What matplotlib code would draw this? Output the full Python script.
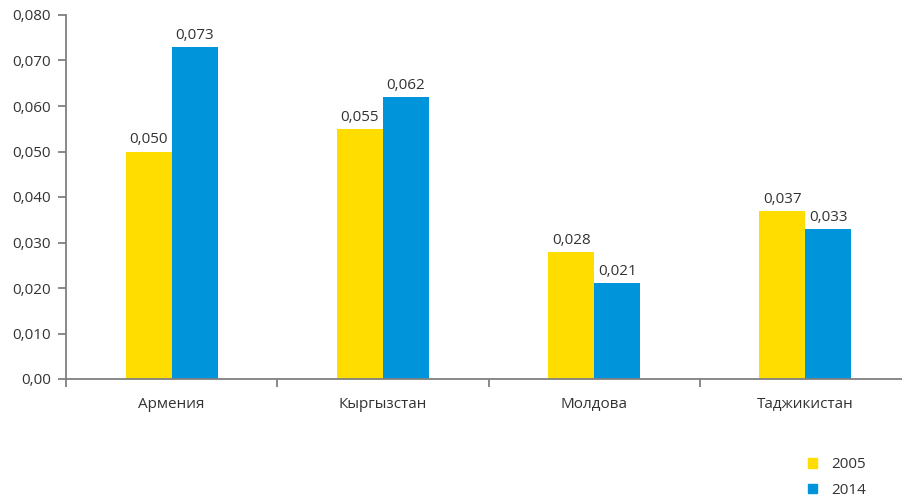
import numpy as np
import matplotlib
matplotlib.use("Agg")
import matplotlib.pyplot as plt
from matplotlib.patches import Patch

plt.rcParams["font.family"] = ["Open Sans", "DejaVu Sans"]

countries = ["Армения", "Кыргызстан", "Молдова", "Таджикистан"]
years = ["2005", "2014"]
vals_2005 = [0.050, 0.055, 0.028, 0.037]
vals_2014 = [0.073, 0.062, 0.021, 0.033]
yticks = [0.0, 0.01, 0.02, 0.03, 0.04, 0.05, 0.06, 0.07, 0.08]

COLORS = ["#FFDD00", "#0094DA"]
TXT = "#333333"
AX = "#808080"
FS = 11


def fmt(v):
    return f"{v:.3f}".replace(".", ",")


fig = plt.figure(figsize=(9.03, 4.97), dpi=100)
ax = fig.add_axes([66 / 903, 1 - 379 / 497, 1 - 66 / 903, (379 - 15) / 497])

x = np.arange(len(countries))
w = 0.218
for off, vals, col in [(-w / 2, vals_2005, COLORS[0]), (w / 2, vals_2014, COLORS[1])]:
    bars = ax.bar(x + off, vals, width=w, color=col, zorder=2)
    for b, v in zip(bars, vals):
        ax.text(b.get_x() + b.get_width() / 2, v + 0.0009, fmt(v),
                ha="center", va="bottom", fontsize=FS, color=TXT)

ax.set_xlim(-0.5, 3.5 - 8 / 211)
ax.set_ylim(0, 0.08)
ax.set_yticks(yticks)
ax.set_yticklabels(["0,00"] + [fmt(t) for t in yticks[1:]])

# category boundaries as ticks, labels at centers
ax.set_xticks([-0.5, 0.5, 1.5, 2.5])
ax.set_xticklabels([])
ax.set_xticks(x, minor=True)
ax.set_xticklabels(countries, minor=True)
ax.tick_params(axis="x", which="minor", length=0, pad=13, labelsize=FS, labelcolor=TXT)
ax.tick_params(axis="x", which="major", length=6, width=1.3, color=AX, direction="out")
ax.tick_params(axis="y", length=6, width=1.3, color=AX, direction="out",
               pad=5, labelsize=FS, labelcolor=TXT)

for s in ["top", "right"]:
    ax.spines[s].set_visible(False)
for s in ["left", "bottom"]:
    ax.spines[s].set_color(AX)
    ax.spines[s].set_linewidth(1.3)

handles = [Patch(color=c, label=y) for c, y in zip(COLORS, years)]
fig.legend(handles=handles, loc="upper left", bbox_to_anchor=(802 / 903, 1 - 451 / 497),
           frameon=False, handlelength=0.6, handleheight=0.6, handletextpad=0.9,
           labelspacing=0.7, fontsize=FS, labelcolor=TXT, borderaxespad=0)

fig.savefig("out.png", dpi=100)
